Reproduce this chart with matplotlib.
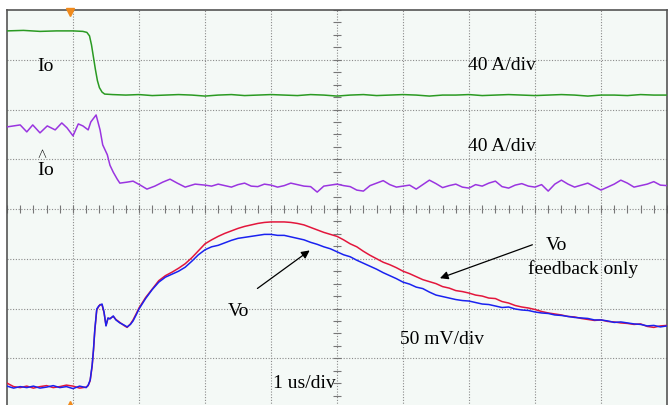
import matplotlib
matplotlib.use("Agg")
import matplotlib.pyplot as plt
import numpy as np

plt.rcParams["mathtext.fontset"] = "custom"
plt.rcParams["mathtext.rm"] = "Liberation Serif"

# ---- data (time in divisions, 1 us/div; amplitude in screen divisions) ----
t_io = [0, 0.25, 0.5, 0.75, 1.0, 1.15, 1.21, 1.25, 1.28, 1.31, 1.34, 1.37, 1.40, 1.44, 1.48, 1.6,
        1.8, 2.0, 2.2, 2.4, 2.6, 2.8, 3.0, 3.2, 3.4, 3.6, 3.8, 4.0, 4.2, 4.4, 4.6, 4.8, 5.0, 5.2, 5.4,
        5.6, 5.8, 6.0, 6.2, 6.4, 6.6, 6.8, 7.0, 7.2, 7.4, 7.6, 7.8, 8.0, 8.2, 8.4, 8.6, 8.8, 9.0,
        9.2, 9.4, 9.6, 9.8, 10.0]
io = [7.58, 7.59, 7.57, 7.58, 7.58, 7.57, 7.55, 7.48, 7.30, 7.05, 6.80, 6.58, 6.44, 6.35, 6.31, 6.30,
      6.29, 6.30, 6.28, 6.29, 6.30, 6.29, 6.27, 6.29, 6.30, 6.28, 6.29, 6.30, 6.29, 6.28, 6.30,
      6.29, 6.27, 6.29, 6.30, 6.28, 6.29, 6.30, 6.29, 6.27, 6.29, 6.29, 6.30, 6.28, 6.29, 6.30,
      6.29, 6.28, 6.29, 6.30, 6.29, 6.27, 6.29, 6.29, 6.28, 6.30, 6.29, 6.29]

t_est = [0, 0.2, 0.3, 0.39, 0.5, 0.61, 0.73, 0.83, 0.91, 1.0, 1.08, 1.15, 1.23, 1.27, 1.35, 1.41,
         1.45, 1.52, 1.56, 1.61, 1.67, 1.71, 1.82, 1.91, 2.02, 2.12, 2.24, 2.36, 2.47, 2.58, 2.70,
         2.85, 3.0,
         3.1, 3.2, 3.3, 3.4, 3.5, 3.6, 3.7, 3.8, 3.9, 4.0, 4.1, 4.2, 4.3, 4.4, 4.5, 4.6, 4.7, 4.8,
         4.9, 5.0, 5.1, 5.2, 5.3, 5.4, 5.5, 5.6, 5.7, 5.8, 5.9, 6.0, 6.1, 6.2, 6.3, 6.4, 6.5, 6.6,
         6.7, 6.8, 6.9, 7.0, 7.1, 7.2, 7.3, 7.4, 7.5, 7.6, 7.7, 7.8, 7.9, 8.0, 8.1, 8.2, 8.3, 8.4,
         8.5, 8.6, 8.7, 8.8, 8.9, 9.0, 9.1, 9.2, 9.3, 9.4, 9.5, 9.6, 9.7, 9.8, 9.9, 10.0]
io_est = [5.65, 5.69, 5.55, 5.69, 5.53, 5.67, 5.59, 5.73, 5.63, 5.47, 5.71, 5.67, 5.59, 5.75, 5.89,
          5.59, 5.29, 5.09, 4.88, 4.74, 4.60, 4.52, 4.54, 4.56, 4.48, 4.40, 4.46, 4.54, 4.60, 4.52,
          4.44, 4.50, 4.48,
          4.46, 4.50, 4.47, 4.44, 4.49, 4.52, 4.46, 4.45, 4.50, 4.48, 4.44, 4.47, 4.52, 4.49, 4.46,
          4.45, 4.34, 4.46, 4.48, 4.50, 4.47, 4.45, 4.38, 4.36, 4.47, 4.52, 4.57, 4.49, 4.44, 4.46,
          4.48, 4.40, 4.49, 4.58, 4.51, 4.43, 4.47, 4.50, 4.44, 4.42, 4.49, 4.46, 4.52, 4.56, 4.45,
          4.42, 4.48, 4.51, 4.46, 4.44, 4.49, 4.36, 4.50, 4.58, 4.50, 4.44, 4.48, 4.52, 4.45, 4.38,
          4.44, 4.50, 4.58, 4.52, 4.44, 4.47, 4.50, 4.55, 4.48, 4.47]

t_vo = [0, 0.1, 0.2, 0.3, 0.4, 0.5, 0.6, 0.7, 0.8, 0.9, 1.0, 1.1, 1.2,
        1.23, 1.26, 1.29, 1.31, 1.33, 1.36, 1.39, 1.41, 1.44, 1.47, 1.50, 1.53, 1.56, 1.61, 1.65,
        1.71, 1.77, 1.82, 1.87, 1.91, 1.96, 2.0,
        2.1, 2.2, 2.3, 2.4, 2.5, 2.6, 2.7, 2.8, 2.9, 3.0, 3.1, 3.2, 3.3, 3.4, 3.5, 3.6, 3.7, 3.8,
        3.9, 4.0, 4.1, 4.2, 4.3, 4.4, 4.5, 4.6, 4.7, 4.8, 4.9, 5.0, 5.1, 5.2, 5.3, 5.4, 5.5, 5.6,
        5.7, 5.8, 5.9, 6.0, 6.1, 6.2, 6.3, 6.4, 6.5, 6.6, 6.7, 6.8, 6.9, 7.0, 7.1, 7.2, 7.3, 7.4,
        7.5, 7.6, 7.7, 7.8, 7.9, 8.0, 8.1, 8.2, 8.3, 8.4, 8.5, 8.6, 8.7, 8.8, 8.9, 9.0, 9.1, 9.2,
        9.3, 9.4, 9.5, 9.6, 9.7, 9.8, 9.9, 10.0]
vo_ff = [0.44, 0.40, 0.43, 0.41, 0.44, 0.40, 0.42, 0.45, 0.41, 0.43, 0.39, 0.44, 0.41,
         0.46, 0.56, 0.86, 1.17, 1.57, 1.99, 2.05, 2.07, 2.09, 1.93, 1.65, 1.81, 1.79, 1.85, 1.77,
         1.71, 1.67, 1.63, 1.68, 1.75, 1.88, 1.99,
         2.20, 2.38, 2.53, 2.63, 2.69, 2.75, 2.83, 2.95, 3.08, 3.18, 3.24, 3.27, 3.32, 3.37, 3.41,
         3.43, 3.45, 3.47, 3.49, 3.49, 3.47, 3.47, 3.44, 3.41, 3.38, 3.33, 3.29, 3.24, 3.20, 3.14,
         3.08, 3.04, 2.97, 2.91, 2.85, 2.79, 2.72, 2.66, 2.60, 2.53, 2.49, 2.43, 2.40, 2.33, 2.27,
         2.24, 2.21, 2.18, 2.16, 2.15, 2.12, 2.09, 2.08, 2.05, 2.02, 2.03, 1.99, 1.97, 1.96, 1.93,
         1.91, 1.90, 1.87, 1.86, 1.84, 1.82, 1.81, 1.80, 1.77, 1.77, 1.75, 1.72, 1.73, 1.71, 1.69,
         1.68, 1.65, 1.66, 1.63, 1.65]
vo_fb = [0.50, 0.43, 0.41, 0.44, 0.40, 0.43, 0.45, 0.41, 0.43, 0.46, 0.44, 0.40, 0.42,
         0.45, 0.55, 0.84, 1.15, 1.55, 1.97, 2.04, 2.08, 2.07, 1.92, 1.66, 1.80, 1.80, 1.84, 1.78,
         1.72, 1.66, 1.62, 1.69, 1.77, 1.90, 2.01,
         2.22, 2.39, 2.56, 2.66, 2.73, 2.81, 2.90, 3.02, 3.16, 3.30, 3.38, 3.45, 3.51, 3.56, 3.61,
         3.65, 3.68, 3.71, 3.73, 3.74, 3.74, 3.74, 3.73, 3.71, 3.68, 3.63, 3.58, 3.53, 3.49, 3.45,
         3.38, 3.30, 3.24, 3.15, 3.07, 3.00, 2.93, 2.88, 2.82, 2.75, 2.70, 2.64, 2.58, 2.54, 2.50,
         2.44, 2.41, 2.36, 2.34, 2.31, 2.27, 2.25, 2.21, 2.20, 2.14, 2.11, 2.06, 2.03, 2.01, 1.98,
         1.94, 1.91, 1.89, 1.87, 1.84, 1.83, 1.80, 1.78, 1.76, 1.77, 1.74, 1.73, 1.71, 1.70, 1.68,
         1.69, 1.64, 1.62, 1.65, 1.66]

# ---- figure ----
W, H = 669, 405
fig = plt.figure(figsize=(W / 100, H / 100), dpi=100)
fig.patch.set_facecolor("white")
ax = fig.add_axes([7 / W, (H - 408) / H, 660 / W, 398 / H])
ax.set_facecolor("#f4f9f6")
ax.set_xlim(0, 10)
ax.set_ylim(0, 8)
ax.set_xticks([])
ax.set_yticks([])
for s in ax.spines.values():
    s.set_color("#555555")
    s.set_linewidth(1.2)

grid_c = "#8a8a8a"
for x in range(1, 10):
    ax.axvline(x, color=grid_c, lw=0.8, ls=(0, (1, 1.5)), zorder=1)
for y in range(1, 8):
    ax.axhline(y, color=grid_c, lw=0.8, ls=(0, (1, 1.5)), zorder=1)

# center-line minor ticks
xm = np.arange(0, 10.001, 0.2)
ax.plot(xm, np.full_like(xm, 4.0), "|", ms=6, color="#777777", mew=0.8, zorder=1)
ym = np.arange(0, 8.001, 0.25)
ax.plot(np.full_like(ym, 5.0), ym, "_", ms=6, color="#777777", mew=0.8, zorder=1)

# traces
lw = 1.1
ax.plot(t_io, io, color="#2a9a22", lw=lw, zorder=3)
ax.plot(t_est, io_est, color="#9a35e0", lw=lw, zorder=3)
ax.plot(t_vo, vo_fb, color="#e3163c", lw=lw, zorder=3)
ax.plot(t_vo, vo_ff, color="#1a22f0", lw=lw, zorder=4)

# trigger markers
ax.plot([0.95], [7.95], marker="v", ms=6, color="#f08a1c", clip_on=False, zorder=5)
ax.plot([0.95], [0.02], marker="^", ms=8, color="#f08a1c", clip_on=False, zorder=5)

# labels
fp = dict(family="Liberation Serif", fontsize=14, color="black")
ax.text(0.58, 6.87, "Io", ha="center", va="center", **fp)
ax.text(0.58, 4.88, r"$\overset{\wedge}{\mathrm{I}\,}\!\mathrm{o}$", ha="center", va="center", **fp)
ax.text(7.5, 6.89, "40 A/div", ha="center", va="center", **fp)
ax.text(7.5, 5.25, "40 A/div", ha="center", va="center", **fp)
ax.text(6.59, 1.37, "50 mV/div", ha="center", va="center", **fp)
ax.text(4.5, 0.50, "1 us/div", ha="center", va="center", **fp)
ax.text(3.5, 1.93, "Vo", ha="center", va="center", **fp)
ax.text(8.33, 3.26, "Vo", ha="center", va="center", **fp)
ax.text(8.73, 2.79, "feedback only", ha="center", va="center", **fp)

ap = dict(arrowstyle="-|>", color="black", lw=0.9, mutation_scale=12)
ax.annotate("", xy=(4.62, 3.20), xytext=(3.76, 2.37), arrowprops=ap, zorder=6)
ax.annotate("", xy=(6.52, 2.59), xytext=(8.0, 3.30), arrowprops=ap, zorder=6)

fig.savefig("out.png", dpi=100)
